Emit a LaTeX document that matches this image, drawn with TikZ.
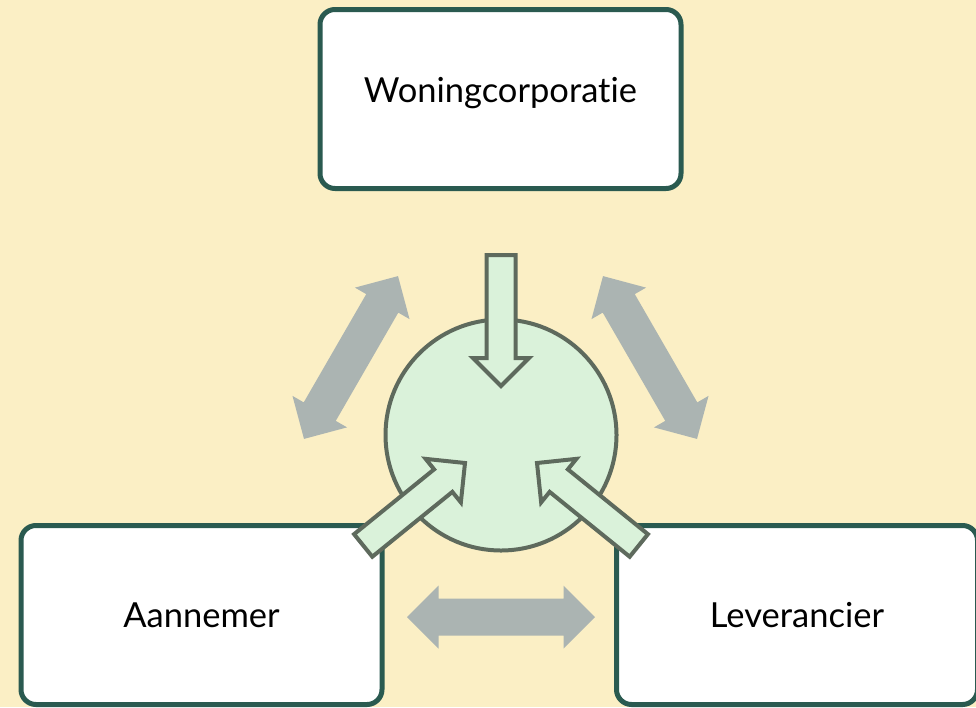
\documentclass[tikz,border=0pt]{standalone}
\usepackage{fontspec}
\setmainfont{Lato}[Ligatures=NoCommon]
\definecolor{paper}{HTML}{FBEFC5}
\definecolor{boxline}{HTML}{2A5A50}
\definecolor{hubfill}{HTML}{DAF2DA}
\definecolor{hubline}{HTML}{5E6A5D}
\definecolor{linkgray}{HTML}{ABB4B2}
\tikzset{
  party/.style={draw=boxline, line width=5pt, fill=white, rounded corners=15pt,
    minimum width=361pt, minimum height=179pt, inner sep=0pt,
    font=\fontsize{34.5}{40}\selectfont},
  hub/.style={circle, draw=hubline, line width=4pt, fill=hubfill,
    minimum size=231pt, inner sep=0pt},
  flowarrow/.style={draw=hubline, line width=4pt, fill=hubfill, miter limit=10},
  linkarrow/.style={fill=linkgray, draw=none},
  pics/inflow/.style={code={
    \path[flowarrow] (0,0) -- (-28,28) -- (-28,14.5) -- (-131,14.5)
      -- (-131,-14.5) -- (-28,-14.5) -- (-28,-28) -- cycle;}},
  pics/exchange/.style={code={
    \path[linkarrow] (-94,0) -- (-62.5,31.5) -- (-62.5,18.5) -- (62.5,18.5)
      -- (62.5,31.5) -- (94,0) -- (62.5,-31.5) -- (62.5,-18.5)
      -- (-62.5,-18.5) -- (-62.5,-31.5) -- cycle;}}
}
\begin{document}
\begin{tikzpicture}[x=1pt, y=-1pt]
  % canvas
  \fill[paper] (0,0) rectangle (976,707);
  \useasboundingbox (0,0) rectangle (976,707);

  % two-way links between the parties
  \pic (linkleft)   [rotate=60]  at (351,357.5) {exchange};
  \pic (linkright)  [rotate=-60] at (650,357.5) {exchange};
  \pic (linkbottom)              at (501,617)   {exchange};

  % parties
  \node[party] (woning)  at (500.5,99)  {\raisebox{-3pt}[0pt][0pt]{Woningcorporatie}};
  \node[party] (aannemer) at (201.5,615) {Aannemer};
  \node[party] (leverancier) at (797,615) {Leverancier};

  % shared centre
  \node[hub] (centre) at (501,435) {};

  % contributions flowing into the centre
  \pic (fromtop)   [rotate=-90] at (501,386) {inflow};
  \pic (fromleft)  [rotate=39]  at (465,463) {inflow};
  \pic (fromright) [rotate=141] at (537,463) {inflow};
\end{tikzpicture}
\end{document}
